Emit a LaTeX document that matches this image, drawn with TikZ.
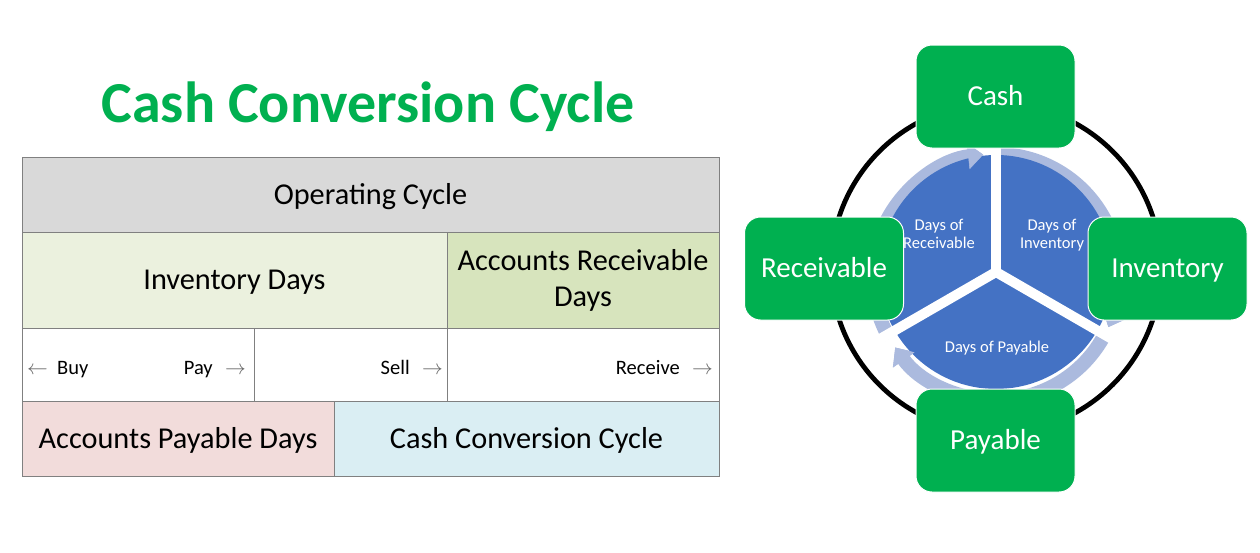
\documentclass[tikz,border=0pt]{standalone}
\usepackage{fontspec}
\setmainfont{Carlito}
\usetikzlibrary{arrows.meta,positioning,calc}
\definecolor{cellgray}{HTML}{D9D9D9}
\definecolor{invgreen}{HTML}{EBF1DE}
\definecolor{recgreen}{HTML}{D7E4BD}
\definecolor{paypink}{HTML}{F2DCDB}
\definecolor{cccblue}{HTML}{DAEEF3}
\definecolor{boxgreen}{HTML}{00B050}
\definecolor{piefill}{HTML}{4472C4}
\definecolor{ringfill}{HTML}{ABBADE}

\begin{document}
\begin{tikzpicture}[x=1pt, y=-1pt,
  cell/.style={draw=black!50, line width=0.9pt, anchor=north west, inner sep=0pt, outer sep=0pt, align=center, font=\fontsize{30.3}{36}\selectfont, text height=19.5pt, text depth=0pt},
  evt/.style={font=\fontsize{20.5}{24}\selectfont, inner sep=0pt},
  stage/.style={fill=boxgreen, draw=white, line width=1pt, rounded corners=16pt, minimum width=159pt, minimum height=103pt, text=white, font=\fontsize{29}{34}\selectfont, text height=18.7pt, text depth=0pt},
  ring/.style={ringfill, line width=14pt, -{Triangle[width=26pt,length=15pt]}},
  ringtip/.style={ringfill, line width=0.5pt, -{Triangle[width=26pt,length=15pt]}},
  slit/.style={white, line width=10pt},
  daylbl/.style={text=white, align=center, font=\fontsize{16.5}{18.5}\selectfont, inner sep=0pt}
]
  \path[use as bounding box, fill=white] (0,0) rectangle (1260,552);

  % title
  \node[font=\fontsize{58}{69}\selectfont\bfseries, text=boxgreen, anchor=base] (title) at (368,122) {Cash Conversion Cycle};

  % table
  \node[cell, fill=cellgray, minimum width=697pt, minimum height=75pt] (opcyc) at (22,157) {Operating Cycle};
  \node[cell, fill=invgreen, minimum width=425pt, minimum height=96pt] (invdays) at (opcyc.south west) {Inventory Days};
  \node[cell, fill=recgreen, minimum width=272pt, minimum height=96pt, text height={}, text depth={}] (recdays) at (invdays.north east) {Accounts Receivable\\Days};
  \node[cell, minimum width=232pt, minimum height=73pt] (buypay) at (invdays.south west) {};
  \node[cell, minimum width=193pt, minimum height=73pt] (sell) at (buypay.north east) {};
  \node[cell, minimum width=272pt, minimum height=73pt] (receive) at (sell.north east) {};
  \node[cell, fill=paypink, minimum width=312pt, minimum height=75pt] (paydays) at (buypay.south west) {Accounts Payable Days};
  \node[cell, fill=cccblue, minimum width=385pt, minimum height=75pt] (cccyc) at (paydays.north east) {Cash Conversion Cycle};

  \node[evt, anchor=base west] (buy) at ($(buypay.west)+(5,9.5)$) {\textcolor{black!60}{$\leftarrow$}\hspace{.45em}Buy};
  \node[evt, anchor=base east] (pay) at ($(buypay.east)+(-8,9.5)$) {Pay\hspace{.6em}\textcolor{black!60}{$\rightarrow$}};
  \node[evt, anchor=base east] (sold) at ($(sell.east)+(-4,9.5)$) {Sell\hspace{.6em}\textcolor{black!60}{$\rightarrow$}};
  \node[evt, anchor=base east] (recv) at ($(receive.east)+(-6,9.5)$) {Receive\hspace{.6em}\textcolor{black!60}{$\rightarrow$}};

  % cycle
  \coordinate (hub) at (996,268);
  \coordinate (piec) at (996,272);
  \coordinate (ringc) at (996,277);
  \draw[line width=4.8pt] (hub) circle[radius=165];

  \draw[ring] ($(ringc)+(-90:123)$) arc[start angle=-90, end angle=24, radius=123];
  \draw[ring] ($(ringc)+(30:123)$) arc[start angle=30, end angle=145, radius=123];
  \draw[ring] ($(ringc)+(150:123)$) arc[start angle=150, end angle=264, radius=123];
  \fill[piefill] (piec) circle[radius=117];
  \foreach \a in {24,145,264}
    \draw[ringtip] ($(ringc)+(\a-12:123)$) arc[start angle=\a-12, end angle=\a, radius=123];
  \foreach \a in {-90,30,150}
    \draw[slit] (piec) -- ($(piec)+(\a:138)$);

  \node[daylbl] (dinv) at (1052,235) {Days of\\Inventory};
  \node[daylbl] (drec) at (939,234) {Days of\\Receivable};
  \node[daylbl, anchor=base] (dpay) at (997,352) {Days of Payable};

  \node[stage] (cash) at (995.5,96.5) {Cash};
  \node[stage] (inv) at (1167.5,268.5) {Inventory};
  \node[stage] (pbl) at (995.5,440.5) {Payable};
  \node[stage] (rcv) at (824,268.5) {Receivable};
\end{tikzpicture}
\end{document}
